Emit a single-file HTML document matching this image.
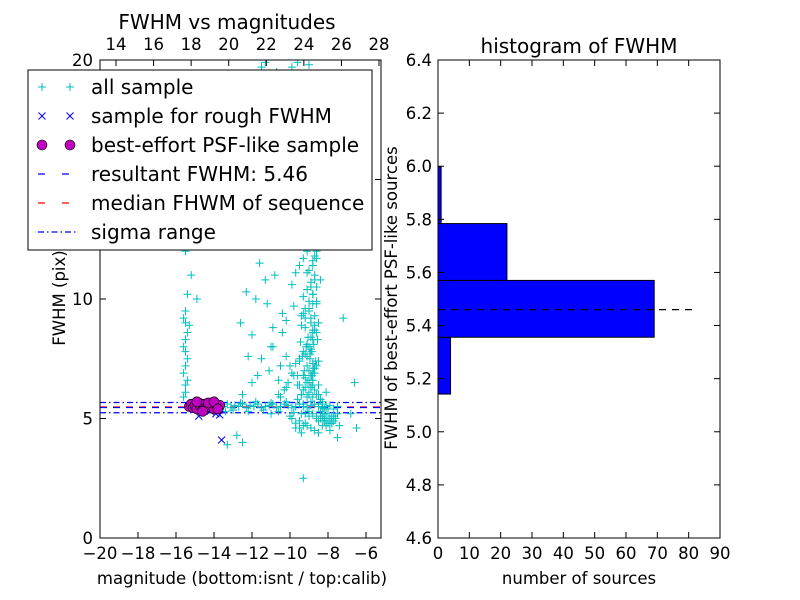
<!DOCTYPE html>
<html><head><meta charset="utf-8"><style>
body{margin:0;background:#fff}
svg{display:block;font-family:"DejaVu Sans","Liberation Sans",sans-serif}
</style></head><body>
<svg id="fig" width="800" height="600" viewBox="0 0 800 600"></svg>
<script>
// ---- data: left scatter ----
const allMag = [
-15.6,-15.5,-15.5,-15.4,-15.6,-15.5,-15.4,-15.5,-15.6,-15.5,-15.4,-15.3,-15.5,-15.6,-15.5,-15.4,-15.7,-15.5,-15.3,-15.2,-14.9,-14.7,-14.6,
-13.5,-13.3,-13.1,-12.9,-12.7,-12.5,-12.3,-12.1,-11.9,-11.7,-11.5,-11.3,-11.1,-10.9,-10.7,-10.5,-10.3,-10.1,-9.9,-9.7,-9.5,-9.3,-9.1,-8.9,-8.7,-8.5,-8.3,-8.1,-7.9,-7.7,-7.5,
-13.4,-13.0,-12.6,-12.2,-11.8,-11.4,-11.0,-10.6,-10.2,-9.8,-9.4,-9.0,-8.6,-8.2,-7.8,
-9.6,-9.4,-9.2,-9.0,-8.8,-8.6,-9.5,-9.3,-9.1,-8.9,-8.7,-8.5,-9.4,-9.2,-9.0,-8.8,-8.6,-8.4,-9.7,-9.5,-9.3,-9.1,-8.9,-8.7,
-9.3,-9.1,-8.9,-8.7,-8.5,-9.2,-9.0,-8.8,-8.6,-9.4,-9.2,-9.0,-8.8,-9.3,-9.1,-8.9,-8.7,-9.0,-8.8,-9.2,-9.0,-8.8,-9.1,-8.9,
-9.9,-9.7,-9.5,-9.3,-8.5,-8.3,-8.1,-7.9,-8.2,-8.0,-7.8,-8.4,-8.6,-8.9,-9.1,-9.6,-9.8,-10.0,-10.2,-8.0,-7.6,-7.4,
-12.5,-12.0,-11.5,-11.0,-10.5,-11.8,-12.3,-11.2,-10.8,-11.6,-12.0,-10.2,-10.6,-11.0,-12.8,-13.3,-12.5,-9.3,-7.5,-6.5,-6.6,-7.2,-6.8,-10.9,-10.4,-9.9,-10.1,
-11.5,-11.3,-9.9,-9.6,-10.7,-9.2,-9.0,
-9.0,-8.9,-8.8,-8.7,-9.1,-8.95,-8.85,-8.75,-9.05,-8.8,-8.9,-8.7,-9.0,-8.6,-8.8,-8.9,-8.7,-9.1,-8.8,-8.6,
-8.9,-8.8,-8.7,-9.0,-8.85,-8.75,-8.65,-8.95,-9.15,-8.55,-8.8,-8.7,-8.9,-9.0,-8.6,-8.5,-8.4,-8.3,-8.2,-8.5,
-9.2,-9.3,-9.4,-9.5,-9.6,-9.25,-9.35,-9.45,-9.2,-9.3,-8.4,-8.3,-8.2,-8.1,-8.0,-7.9,-7.8,-7.7,-8.3,-8.1,
-10.5,-10.3,-10.1,-9.9,-9.7,-10.4,-10.2,-9.8,-11.3,-11.7,-12.2,-12.6,-10.9,-11.1,-10.6,-10.0,-9.5,-9.7,-9.4,-9.2,
-9.0,-8.8,-8.6,-8.4,-8.2,-8.0,-9.1,-8.9,-8.7,-8.5,-8.3,-8.1,-7.9,-7.7,-7.5,-9.3,-9.5,-8.6,-8.8,-9.0
];
const allFwhm = [
5.9,6.1,6.4,6.6,6.9,7.2,7.5,7.8,8.0,8.3,8.6,8.9,9.0,9.2,9.5,10.2,12.3,12.0,13.0,11.0,10.0,12.6,12.9,
5.5,5.6,5.45,5.55,5.5,5.6,5.45,5.55,5.5,5.6,5.45,5.5,5.55,5.6,5.45,5.5,5.6,5.55,5.45,5.5,5.6,5.5,5.45,5.55,5.6,5.5,5.45,5.5,5.55,5.4,5.5,
5.3,5.35,5.65,5.3,5.7,5.35,5.65,5.3,5.7,5.25,5.2,5.1,5.0,4.9,4.8,
5.8,6.0,6.3,6.6,6.9,7.2,7.5,7.8,8.1,8.4,8.7,9.0,9.3,9.6,9.9,10.2,10.5,10.8,11.1,11.4,11.7,12.0,12.2,11.8,
6.2,6.5,6.8,7.1,7.4,7.7,8.0,8.3,8.6,8.9,9.2,9.5,9.8,10.1,10.4,10.7,11.0,6.1,6.4,6.7,7.0,7.3,7.6,7.9,
5.0,4.8,4.6,4.7,4.9,5.1,4.7,4.5,5.2,5.0,4.8,5.8,6.0,6.3,5.9,6.4,6.8,7.2,7.6,5.4,5.0,4.7,
6.0,6.5,7.5,8.0,7.2,10.0,10.3,9.8,11.0,11.5,8.5,6.3,6.6,5.2,4.3,3.9,4.0,2.5,4.2,4.6,6.5,9.2,5.2,8.8,9.4,10.6,12.5,
19.7,19.9,19.7,19.9,19.5,19.3,19.8,
6.0,6.3,6.6,6.9,7.2,7.5,7.8,8.1,8.4,8.7,9.0,9.3,9.6,9.9,10.2,10.5,10.8,11.1,11.4,11.7,
5.7,5.9,6.2,6.5,6.8,7.1,7.4,7.7,8.0,8.3,8.6,8.9,9.2,9.5,9.8,6.0,5.8,5.6,5.4,6.4,
5.2,5.6,6.0,6.4,6.8,7.0,7.6,8.2,8.8,9.4,5.3,5.1,4.9,5.2,5.0,4.8,5.1,4.9,5.7,6.1,
5.9,6.2,6.5,6.9,7.3,8.6,9.1,9.7,10.8,6.8,7.6,9.0,8.0,7.0,6.0,5.1,4.9,4.6,4.4,4.8,
5.3,5.2,5.1,5.0,4.9,4.8,4.7,4.6,4.5,4.4,4.7,4.9,5.0,5.1,5.2,6.8,7.4,12.0,11.6,11.2
];
const roughMag = [-13.6,-14.8,-13.7,-14.2,-13.9];
const roughFwhm = [4.1,5.1,5.15,5.3,5.2];
const psfMag = [-15.3,-15.2,-15.1,-15.0,-14.9,-14.8,-14.7,-14.6,-14.5,-14.4,-14.3,-14.2,-14.1,-14.0,-13.9,-13.8,-13.7,-14.9,-14.6,-14.3,-14.0,-13.8];
const psfFwhm = [5.5,5.6,5.45,5.55,5.4,5.65,5.5,5.35,5.6,5.45,5.55,5.5,5.65,5.4,5.6,5.5,5.55,5.7,5.3,5.65,5.7,5.4];
const resultFwhm = 5.46;
const medianFwhm = 5.48;
const sigmaLo = 5.24, sigmaHi = 5.67;
const xTicksBottom = [-20,-18,-16,-14,-12,-10,-8,-6];
const xTicksTop = [14,16,18,20,22,24,26,28];
const yTicksLeft = [0,5,10,15,20];
// ---- data: histogram ----
const binEdges = [5.142,5.356,5.570,5.784,5.998];
const binCounts = [4,69,22,1];
const histXTicks = [0,10,20,30,40,50,60,70,80,90];
const histYTicks = [4.6,4.8,5.0,5.2,5.4,5.6,5.8,6.0,6.2,6.4];

const svg = document.getElementById('fig');
const NS = 'http://www.w3.org/2000/svg';
function mk(tag, attrs, parent){const e=document.createElementNS(NS,tag);for(const k in attrs)e.setAttribute(k,attrs[k]);(parent||svg).appendChild(e);return e;}
function fmt(v,d){const s=v.toFixed(d);return v<0?'\u2212'+s.slice(1):s;}

const TF=16.5, LF=16.5, HF=20;
const L={x0:100,x1:381,y0:60,y1:538};
const xL = m => L.x0 + (m+20)*19;
const xTop = m => 116 + (m-14)*18.786;
const yL = f => 538 - f*23.9;
const R={x0:438,x1:720,y0:60,y1:538};
const xR = c => 438 + c*3.1333;
const yR = f => 538 - (f-4.6)*265.56;

const gL = mk('g',{});


const clipL = mk('clipPath',{id:'cl'});mk('rect',{x:L.x0,y:L.y0,width:L.x1-L.x0,height:L.y1-L.y0},clipL);
const plotL = mk('g',{'clip-path':'url(#cl)'},gL);

[[sigmaHi,'#0000ff','6,3,1.5,3','sigma-high-line'],[sigmaLo,'#0000ff','6,3,1.5,3','sigma-low-line'],[medianFwhm,'#ff0000','7,6','median-line'],[resultFwhm,'#0000ff','7,6','resultant-line']].forEach(a=>{
  const l=mk('line',{x1:L.x0,x2:L.x1,y1:yL(a[0]),y2:yL(a[0]),stroke:a[1],'stroke-width':1.3,'stroke-dasharray':a[2]},plotL);
  
  
});
for(let i=0;i<allMag.length;i++){
  const x=xL(allMag[i]),y=yL(allFwhm[i]);
  const p=mk('path',{d:`M${x-4},${y}H${x+4}M${x},${y-4}V${y+4}`,stroke:'#00bfbf','stroke-width':1},plotL);
  
  
}
for(let i=0;i<roughMag.length;i++){
  const x=xL(roughMag[i]),y=yL(roughFwhm[i]);
  const p=mk('path',{d:`M${x-3.5},${y-3.5}L${x+3.5},${y+3.5}M${x-3.5},${y+3.5}L${x+3.5},${y-3.5}`,stroke:'#0000ff','stroke-width':1},plotL);
  
  
}
for(let i=0;i<psfMag.length;i++){
  const c=mk('circle',{cx:xL(psfMag[i]),cy:yL(psfFwhm[i]),r:5,fill:'#bf00bf',stroke:'#000','stroke-width':0.6},plotL);
  
  
}
mk('rect',{x:L.x0,y:L.y0,width:L.x1-L.x0,height:L.y1-L.y0,fill:'none',stroke:'#000','stroke-width':1},gL);
xTicksBottom.forEach(t=>{const x=xL(t);mk('line',{x1:x,x2:x,y1:L.y1,y2:L.y1-6,stroke:'#000'},gL);
  const tx=mk('text',{x:x,y:559,'font-size':TF,'text-anchor':'middle'},gL);tx.textContent=fmt(t,0);
  
  });
xTicksTop.forEach(t=>{const x=xTop(t);mk('line',{x1:x,x2:x,y1:L.y0,y2:L.y0+6,stroke:'#000'},gL);
  const tx=mk('text',{x:x,y:50,'font-size':TF,'text-anchor':'middle'},gL);tx.textContent=t;
  
  });
yTicksLeft.forEach(t=>{const y=yL(t);mk('line',{x1:L.x0,x2:L.x0+6,y1:y,y2:y,stroke:'#000'},gL);mk('line',{x1:L.x1,x2:L.x1-6,y1:y,y2:y,stroke:'#000'},gL);
  const tx=mk('text',{x:93,y:y+6,'font-size':TF,'text-anchor':'end'},gL);tx.textContent=t;
  
  });
let t;
t=mk('text',{x:227,y:29,'font-size':HF,'text-anchor':'middle'});t.textContent='FWHM vs magnitudes';

t=mk('text',{x:242,y:584,'font-size':LF,'text-anchor':'middle'});t.textContent='magnitude (bottom:isnt / top:calib)';

t=mk('text',{x:0,y:0,'font-size':LF,'text-anchor':'middle',transform:'translate(65,298) rotate(-90)'});t.textContent='FWHM (pix)';


const lg=mk('g',{});


mk('rect',{x:28,y:70,width:344,height:180,fill:'#fff',stroke:'#000','stroke-width':1},lg);
const entries=['all sample','sample for rough FWHM','best-effort PSF-like sample','resultant FWHM: 5.46','median FHWM of sequence','sigma range'];
entries.forEach((s,i)=>{
  const y=87+i*29;
  const e=mk('g',{},lg);
  
  
  if(i===0){[42,70].forEach(x=>mk('path',{d:`M${x-4},${y}H${x+4}M${x},${y-4}V${y+4}`,stroke:'#00bfbf'},e));}
  if(i===1){[42,70].forEach(x=>mk('path',{d:`M${x-3.5},${y-3.5}L${x+3.5},${y+3.5}M${x-3.5},${y+3.5}L${x+3.5},${y-3.5}`,stroke:'#0000ff'},e));}
  if(i===2){[42,70].forEach(x=>mk('circle',{cx:x,cy:y,r:5,fill:'#bf00bf',stroke:'#000','stroke-width':0.6},e));}
  if(i===3)mk('line',{x1:38,x2:76,y1:y,y2:y,stroke:'#0000ff','stroke-width':1.3,'stroke-dasharray':'7,17'},e);
  if(i===4)mk('line',{x1:38,x2:76,y1:y,y2:y,stroke:'#ff0000','stroke-width':1.3,'stroke-dasharray':'7,17'},e);
  if(i===5)mk('line',{x1:38,x2:76,y1:y,y2:y,stroke:'#0000ff','stroke-width':1.3,'stroke-dasharray':'6,3,1.5,3'},e);
  const tx=mk('text',{x:91,y:y+7,'font-size':HF},e);tx.textContent=s;
});

const gR=mk('g',{});


binCounts.forEach((c,i)=>{
  const yt=yR(binEdges[i+1]),yb=yR(binEdges[i]);
  const b=mk('rect',{x:R.x0,y:yt,width:xR(c)-R.x0,height:yb-yt,fill:'#0000ff',stroke:'#000','stroke-width':1},gR);
  
  
});
const hl=mk('line',{x1:R.x0,x2:xR(83),y1:yR(resultFwhm),y2:yR(resultFwhm),stroke:'#000','stroke-width':1.3,'stroke-dasharray':'7,6'},gR);


mk('rect',{x:R.x0,y:R.y0,width:R.x1-R.x0,height:R.y1-R.y0,fill:'none',stroke:'#000'},gR);
histXTicks.forEach(v=>{const x=xR(v);mk('line',{x1:x,x2:x,y1:R.y1,y2:R.y1-6,stroke:'#000'},gR);mk('line',{x1:x,x2:x,y1:R.y0,y2:R.y0+6,stroke:'#000'},gR);
  const tx=mk('text',{x:x,y:559,'font-size':TF,'text-anchor':'middle'},gR);tx.textContent=v;
  
  });
histYTicks.forEach(v=>{const y=yR(v);mk('line',{x1:R.x0,x2:R.x0+6,y1:y,y2:y,stroke:'#000'},gR);mk('line',{x1:R.x1,x2:R.x1-6,y1:y,y2:y,stroke:'#000'},gR);
  const tx=mk('text',{x:432,y:y+6,'font-size':TF,'text-anchor':'end'},gR);tx.textContent=v.toFixed(1);
  
  });
t=mk('text',{x:579,y:53,'font-size':HF,'text-anchor':'middle'});t.textContent='histogram of FWHM';

t=mk('text',{x:579,y:584,'font-size':LF,'text-anchor':'middle'});t.textContent='number of sources';

t=mk('text',{x:0,y:0,'font-size':LF,'text-anchor':'middle',transform:'translate(397,298) rotate(-90)'});t.textContent='FWHM of best-effort PSF-like sources';

</script>
</body></html>
